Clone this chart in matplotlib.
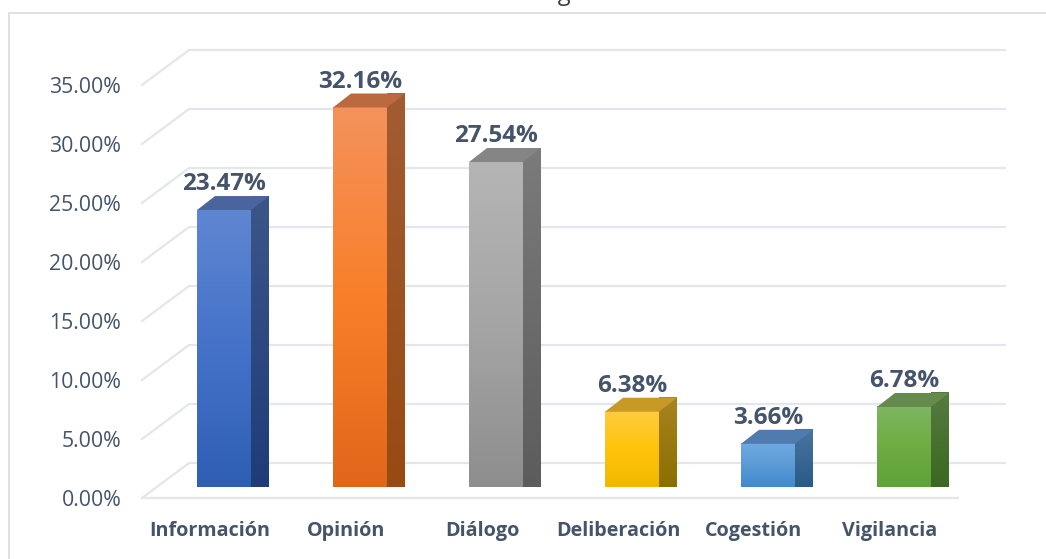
#!/usr/bin/env python3

import matplotlib.pyplot as plt
import numpy as np
from matplotlib.colors import LinearSegmentedColormap
from matplotlib.patches import Polygon

CATEGORIES = ["Información", "Opinión", "Diálogo", "Deliberación", "Cogestión", "Vigilancia"]
VALUES = [23.47, 32.16, 27.54, 6.38, 3.66, 6.78]
YTICKS = [0, 5, 10, 15, 20, 25, 30, 35]
# cut off by the top of the image, only the descenders show
TITLE = "Tabla de las categorías de uso"

FRONT_COLORS = [
    ("#5F86D2", "#4472C8", "#2E5FB5"),
    ("#F4925C", "#F97F2A", "#E2661A"),
    ("#B5B5B5", "#A5A5A5", "#8E8E8E"),
    ("#FFCB40", "#FFC40A", "#F2B800"),
    ("#70A9E1", "#5B9BD5", "#4089D0"),
    ("#7EB661", "#6EAD42", "#5FA238"),
]
SIDE_COLORS = [
    ("#3C5689", "#1F3C78"),
    ("#A35C32", "#984A12"),
    ("#7B7B7B", "#5C5C5C"),
    ("#A88420", "#8C6E00"),
    ("#4A74A0", "#2A5A86"),
    ("#567B41", "#3B6820"),
]
TOP_COLORS = ["#4A659E", "#BA6A3E", "#858585", "#C69A24", "#4F7BAE", "#648A4C"]

TEXT_COLOR = "#44546A"
GRID_COLOR = "#E3E6EC"
FRAME_COLOR = "#DDE1E6"

W, H = 1046, 559
PX_X = 136.0  # pixels per category
PX_Y = 413.0 / 35.0  # pixels per percent


def gradient(ax, colors, extent, clip=None):
    cmap = LinearSegmentedColormap.from_list("bar", colors)
    im = ax.imshow(
        np.linspace(0, 1, 256).reshape(-1, 1),
        cmap=cmap,
        extent=extent,
        origin="upper",
        aspect="auto",
        zorder=3,
        clip_on=False,
    )
    if clip is not None:
        im.set_clip_path(clip)


def main():
    plt.rcParams["font.family"] = ["Open Sans", "DejaVu Sans"]
    fig = plt.figure(figsize=(W / 100, H / 100), dpi=100)
    fig.patch.set_facecolor("white")

    # chart frame, runs off the image on the right and bottom
    frame = fig.add_axes([9 / W, 0, (W - 9) / W, 1 - 13 / H])
    frame.set_xticks([])
    frame.set_yticks([])
    frame.spines["bottom"].set_visible(False)
    frame.spines["right"].set_visible(False)
    for side in ("top", "left"):
        frame.spines[side].set_color(FRAME_COLOR)
        frame.spines[side].set_linewidth(1.4)

    fig.text(540 / W, (H + 0.5) / H, TITLE, ha="center", va="baseline",
             fontsize=17, color="#404040")

    ax = fig.add_axes([142 / W, (H - 498) / H, 816 / W, 413 / H])
    ax.patch.set_alpha(0)
    ax.set_xlim(-82 / PX_X, 734 / PX_X)
    ax.set_ylim(0, 35)
    ax.set_autoscale_on(False)

    x0, x1 = ax.get_xlim()
    floor_dx = 47 / PX_X
    floor_dy = 35 / PX_Y
    for tick in YTICKS:
        ax.plot(
            [x0, x0 + floor_dx, x1 + floor_dx],
            [tick, tick + floor_dy, tick + floor_dy],
            color=GRID_COLOR,
            lw=1.6,
            zorder=1,
            clip_on=False,
        )
    ax.plot([x0, x1], [0, 0], color=GRID_COLOR, lw=1.6, zorder=1, clip_on=False)

    half = 27 / PX_X
    depth_x = 18 / PX_X
    depth_y = 14 / PX_Y
    base = 11 / PX_Y
    for i, value in enumerate(VALUES):
        left, right = i - half, i + half
        top = base + value
        gradient(ax, FRONT_COLORS[i], (left, right, base, top))
        side = Polygon(
            [(right, base), (right + depth_x, base + depth_y),
             (right + depth_x, top + depth_y), (right, top)],
            closed=True, fc="none", ec="none", transform=ax.transData,
        )
        ax.add_patch(side)
        gradient(ax, SIDE_COLORS[i], (right, right + depth_x, base, top + depth_y), clip=side)
        ax.add_patch(Polygon(
            [(left, top), (right, top), (right + depth_x, top + depth_y),
             (left + depth_x, top + depth_y)],
            closed=True, fc=TOP_COLORS[i], ec="none", zorder=3, clip_on=False,
        ))
        ax.annotate(
            f"{value:.2f}%",
            (i, top + depth_y),
            xytext=(0, 0),
            textcoords="offset points",
            ha="center",
            va="bottom",
            fontsize=17.5,
            fontweight="bold",
            color=TEXT_COLOR,
            zorder=4,
            annotation_clip=False,
        )

    ax.set_yticks(YTICKS, [f"{t:.2f}%" for t in YTICKS])
    # category labels sit left of the bars, centred on the floor
    ax.set_xticks([i - 14 / PX_X for i in range(len(CATEGORIES))], CATEGORIES)
    ax.tick_params(axis="y", length=0, pad=15, labelsize=15.3, labelcolor=TEXT_COLOR)
    ax.tick_params(axis="x", length=0, pad=16.5, labelsize=14.2, labelcolor=TEXT_COLOR)
    for label in ax.get_xticklabels():
        label.set_fontweight("bold")

    for name in ("top", "left", "right", "bottom"):
        ax.spines[name].set_visible(False)

    fig.savefig("out.png", dpi=100)


if __name__ == "__main__":
    main()
